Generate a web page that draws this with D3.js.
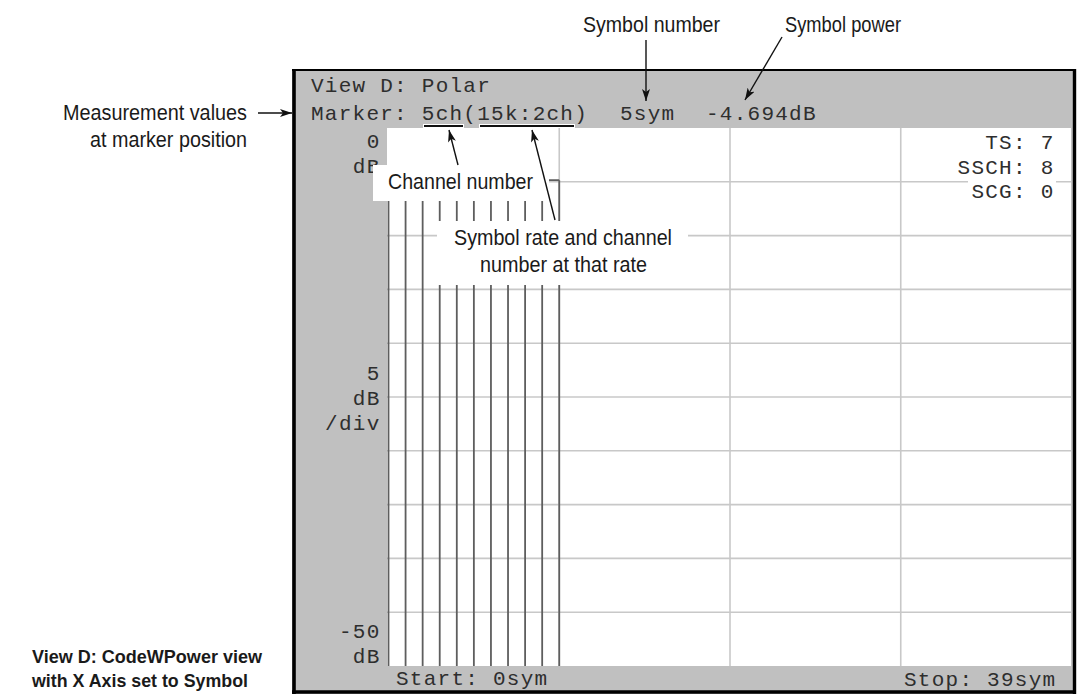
<!DOCTYPE html>
<html>
<head>
<meta charset="utf-8">
<script src="https://cdn.jsdelivr.net/npm/d3@7"></script>
<style>
  html, body { margin: 0; padding: 0; background: #fff; }
  svg { display: block; }
  .mono { font-family: "Liberation Mono", "DejaVu Sans Mono", monospace; font-size: 21px; fill: #2e2e2e; letter-spacing: 1.25px; }
  .ann { font-family: "Liberation Sans Narrow", "Liberation Sans", Arial, sans-serif; font-size: 22px; fill: #1a1a1a; }
  .annb { font-family: "Liberation Sans Narrow", "Liberation Sans", Arial, sans-serif; font-size: 18.5px; font-weight: bold; fill: #1a1a1a; }
</style>
</head>
<body>
<svg id="chart" width="1078" height="694"></svg>
<script>
// ---- data ----
const symbols = [0, 1, 2, 3, 4, 5, 6, 7, 8, 9, 10];
const powerDb = [-4.75, -4.71, -4.78, -4.73, -4.70, -4.694, -4.76, -4.72, -4.74, -4.77, -4.85];
const xDomain = [0, 40];
const yDomain = [0, -50];
const xGridTicks = [10, 20, 30];
const yGridTicks = [-5, -10, -15, -20, -25, -30, -35, -40, -45];
const yTopLabels = ["0", "dB"];
const yScaleLabels = ["5", "dB", "/div"];
const yBottomLabels = ["-50", "dB"];
const infoLabels = ["TS: 7", "SSCH: 8", "SCG: 0"];
const headerTitle = "View D: Polar";
const markerText = "Marker: 5ch(15k:2ch)";
const markerSymbol = "5sym";
const markerPower = "-4.694dB";
const startLabel = "Start: 0sym";
const stopLabel = "Stop: 39sym";

const svg = d3.select("#chart");

// frame
const frame = { x0: 292, y0: 69, x1: 1076, y1: 694 };
const plot = { x0: 387, y0: 128, x1: 1071, y1: 666 };

svg.append("rect").attr("x", frame.x0).attr("y", frame.y0)
  .attr("width", frame.x1 - frame.x0).attr("height", frame.y1 - frame.y0)
  .attr("fill", "#c0c0c0");

svg.append("rect").attr("x", plot.x0).attr("y", plot.y0)
  .attr("width", plot.x1 - plot.x0).attr("height", plot.y1 - plot.y0)
  .attr("fill", "#ffffff");

const x = d3.scaleLinear().domain(xDomain).range([388.5, 1071.5]);
const y = d3.scaleLinear().domain(yDomain).range([plot.y0, plot.y1]);

// grid
const grid = svg.append("g");
grid.selectAll("line.h").data(yGridTicks).join("line")
  .attr("x1", plot.x0).attr("x2", plot.x1)
  .attr("y1", d => y(d)).attr("y2", d => y(d))
  .attr("stroke", "#c8c8c8").attr("stroke-width", 1.6);
grid.selectAll("line.v").data(xGridTicks).join("line")
  .attr("y1", plot.y0).attr("y2", plot.y1)
  .attr("x1", d => x(d)).attr("x2", d => x(d))
  .attr("stroke", "#c8c8c8").attr("stroke-width", 1.6);

// trace bars
const traceG = svg.append("g");
traceG.selectAll("line.bar").data(symbols).join("line")
  .attr("x1", d => x(d)).attr("x2", d => x(d))
  .attr("y1", (d, i) => y(powerDb[i])).attr("y2", plot.y1)
  .attr("stroke", "#5e5e5e").attr("stroke-width", 1.8);
const stepLine = d3.line()
  .x(d => x(d))
  .y((d, i) => y(powerDb[i]))
  .curve(d3.curveStepBefore);
traceG.append("path").attr("d", stepLine(symbols))
  .attr("fill", "none").attr("stroke", "#5e5e5e").attr("stroke-width", 1.8);

// frame borders
const bd = svg.append("g").attr("stroke", "#000");
bd.append("line").attr("x1", frame.x0).attr("x2", frame.x1).attr("y1", 70).attr("y2", 70).attr("stroke-width", 2.2);
bd.append("line").attr("x1", 294).attr("x2", 294).attr("y1", frame.y0).attr("y2", frame.y1).attr("stroke-width", 3.6);
bd.append("line").attr("x1", 1074.5).attr("x2", 1074.5).attr("y1", frame.y0).attr("y2", frame.y1).attr("stroke-width", 3.4);
bd.append("line").attr("x1", frame.x0).attr("x2", frame.x1).attr("y1", 692).attr("y2", 692).attr("stroke-width", 3.6);

// instrument texts
const mono = svg.append("g").attr("class", "mono");
mono.append("text").attr("x", 311).attr("y", 92).text(headerTitle);
mono.append("text").attr("x", 311).attr("y", 120).text(markerText);
mono.append("text").attr("x", 620).attr("y", 120).text(markerSymbol);
mono.append("text").attr("x", 706).attr("y", 120).text(markerPower);

// underlines
const ul = svg.append("g");
[[423, 464], [479, 575]].forEach(([a, b]) => {
  ul.append("line").attr("x1", a).attr("x2", b).attr("y1", 126).attr("y2", 126)
    .attr("stroke", "#fff").attr("stroke-width", 4);
  ul.append("line").attr("x1", a + 1).attr("x2", b - 1).attr("y1", 126).attr("y2", 126)
    .attr("stroke", "#111").attr("stroke-width", 1.8);
});

const yl = svg.append("g").attr("class", "mono").attr("text-anchor", "end");
yl.selectAll("text.t").data(yTopLabels).join("text")
  .attr("x", 380.5).attr("y", (d, i) => 148 + i * 25).text(d => d);
yl.selectAll("text.m").data(yScaleLabels).join("text")
  .attr("x", 380.5).attr("y", (d, i) => 380 + i * 25).text(d => d);
yl.selectAll("text.b").data(yBottomLabels).join("text")
  .attr("x", 380.5).attr("y", (d, i) => 638 + i * 25).text(d => d);

// info box
svg.append("rect").attr("x", 968).attr("y", 178).attr("width", 88).attr("height", 22).attr("fill", "#fff");
const info = svg.append("g").attr("class", "mono").attr("text-anchor", "end");
info.selectAll("text").data(infoLabels).join("text")
  .attr("x", 1054.5).attr("y", (d, i) => 149 + i * 24.5).text(d => d);

mono.append("text").attr("x", 396).attr("y", 685).text(startLabel);
mono.append("text").attr("x", 904).attr("y", 686).text(stopLabel);

// annotation boxes
svg.append("rect").attr("x", 373).attr("y", 165).attr("width", 176).attr("height", 36).attr("fill", "#fff");
svg.append("rect").attr("x", 437).attr("y", 221).attr("width", 251).attr("height", 64).attr("fill", "#fff");

// annotation texts
function ann(txt, x0, y0, w, cls) {
  svg.append("text").attr("class", cls || "ann").attr("x", x0).attr("y", y0)
    .attr("textLength", w).attr("lengthAdjust", "spacingAndGlyphs").text(txt);
}
ann("Symbol number", 583, 32, 137);
ann("Symbol power", 785, 32, 116);
ann("Measurement values", 63, 120, 184);
ann("at marker position", 90, 147, 157);
ann("Channel number", 388, 189, 145);
ann("Symbol rate and channel", 454, 245, 218);
ann("number at that rate", 480, 272, 167);
ann("View D: CodeWPower view", 32, 663, 230, "annb");
ann("with X Axis set to Symbol", 32, 687, 216, "annb");

// arrows
const defs = svg.append("defs");
defs.append("marker").attr("id", "ah").attr("viewBox", "0 0 12 8")
  .attr("refX", 12).attr("refY", 4).attr("markerWidth", 12).attr("markerHeight", 8)
  .attr("markerUnits", "userSpaceOnUse").attr("orient", "auto")
  .append("path").attr("d", "M0,0 L12,4 L0,8 L3,4 Z").attr("fill", "#111");

function arrow(x1, y1, x2, y2) {
  svg.append("line").attr("x1", x1).attr("y1", y1).attr("x2", x2).attr("y2", y2)
    .attr("stroke", "#111").attr("stroke-width", 1.4).attr("marker-end", "url(#ah)");
}
arrow(258, 113, 292, 113);
arrow(646, 40, 646, 101);
arrow(782, 37, 745, 100);
arrow(458, 165, 449, 130);
arrow(555, 220, 532, 130);
</script>
</body>
</html>
